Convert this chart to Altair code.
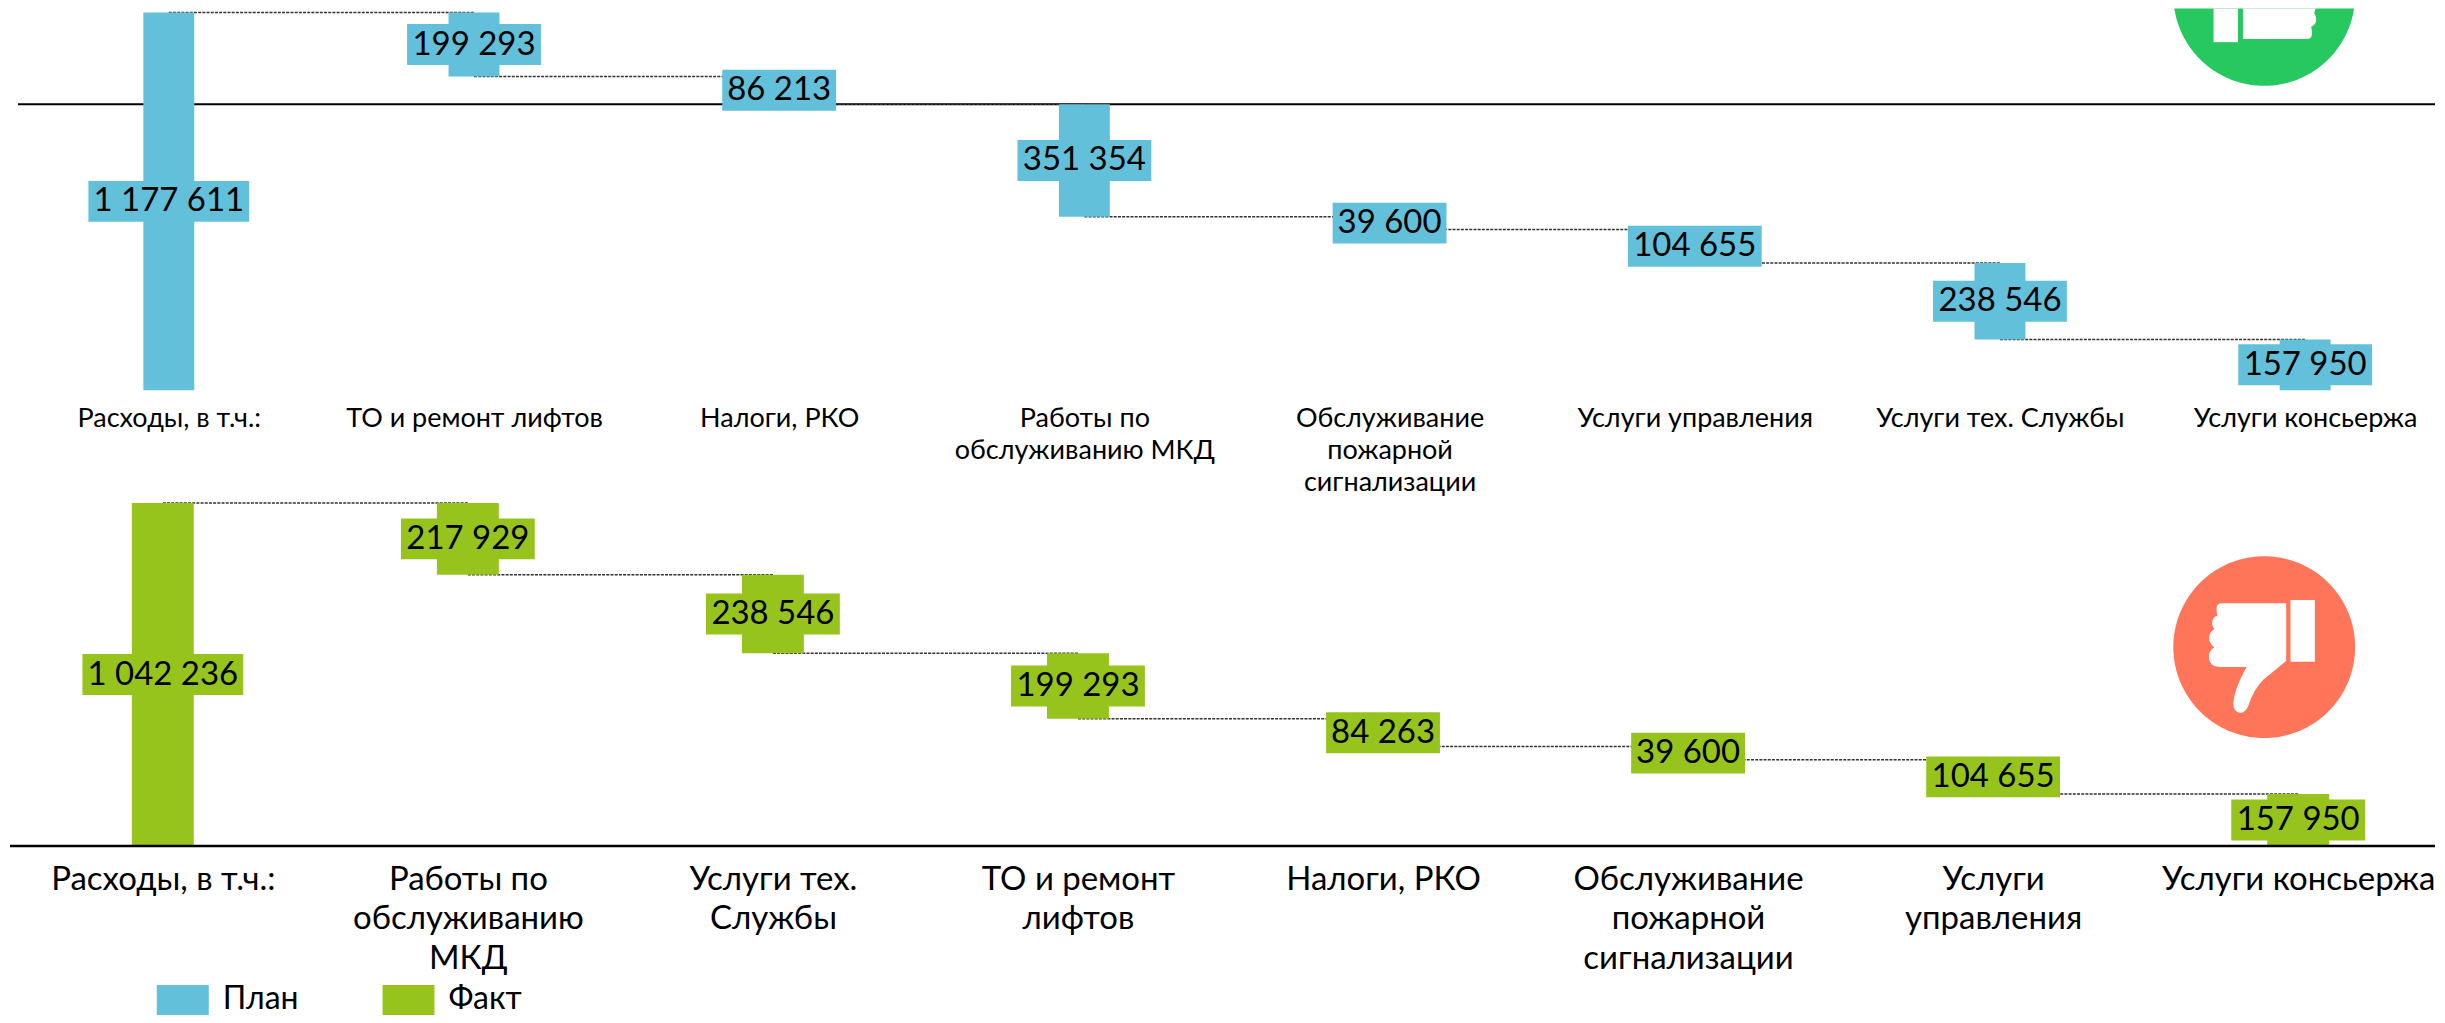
import math
import altair as alt
import pandas as pd

plan_cats = ["Расходы, в т.ч.:", "ТО и ремонт лифтов", "Налоги, РКО", "Работы по|обслуживанию МКД",
             "Обслуживание|пожарной|сигнализации", "Услуги управления", "Услуги тех. Службы", "Услуги консьержа"]
plan_vals = [1177611, 199293, 86213, 351354, 39600, 104655, 238546, 157950]
fact_cats = ["Расходы, в т.ч.:", "Работы по|обслуживанию|МКД", "Услуги тех.|Службы", "ТО и ремонт|лифтов",
             "Налоги, РКО", "Обслуживание|пожарной|сигнализации", "Услуги|управления", "Услуги консьержа"]
fact_vals = [1042236, 217929, 238546, 199293, 84263, 39600, 104655, 157950]

BLUE = "#62C0DA"
GREEN = "#97C41C"
FONT = "Lato"
VIEW_W = 2429

def waterfall(cats, vals, series):
    rows = []
    level = vals[0]
    for i, (c, v) in enumerate(zip(cats, vals)):
        if i == 0:
            hi, lo = v, 0
        else:
            hi, lo = level, level - v
            level = lo
        rows.append(dict(cat=c, hi=hi, lo=lo, mid=(hi + lo) / 2, series=series,
                         label=f"{v:,}".replace(",", " ")))
    for i, r in enumerate(rows):
        if i + 1 < len(rows):
            r["next"] = rows[i + 1]["cat"]
            r["level"] = rows[i + 1]["hi"]
    return pd.DataFrame(rows)

def panel(df, xrange, bar_w, height, total, lab_size, lab_pad, lab_lh, legend, under, over):
    x = alt.X("cat:N", title=None, sort=list(df["cat"]),
              scale=alt.Scale(type="point", domain=list(df["cat"]), range=xrange, padding=0),
              axis=alt.Axis(domain=False, ticks=False, labelAngle=0, labelFont=FONT, labelFontSize=lab_size,
                            labelColor="black", labelPadding=lab_pad, labelLineHeight=lab_lh,
                            labelLimit=0, labelOverlap=False, labelBound=False, labelFlush=False,
                            labelBaseline="top", labelExpr="split(datum.label, '|')"))
    yscale = alt.Scale(domain=[0, total], nice=False, zero=True)
    y = alt.Y("hi:Q", title=None, axis=None, scale=yscale)
    ymid = alt.Y("mid:Q", title=None, axis=None, scale=yscale)
    color = alt.Color("series:N", scale=alt.Scale(domain=["План", "Факт"], range=[BLUE, GREEN]), legend=legend)
    base = alt.Chart(df)
    conn = base.transform_filter("isValid(datum.next)").mark_rule(
        color="#333333", strokeWidth=1.5, strokeDash=[3, 1.2]
    ).encode(x=x, x2=alt.X2("next:N"), y=alt.Y("level:Q", title=None, axis=None, scale=yscale))
    bars = base.mark_bar(size=bar_w).encode(x=x, y=y, y2=alt.Y2("lo:Q"), color=color)
    boxes = base.transform_calculate(
        boxw="length(datum.label) == 6 ? 114 : (length(datum.label) == 7 ? 134 : 161)"
    ).mark_bar(yOffset=-20.5, y2Offset=20.5).encode(
        x=x, y=ymid, y2=alt.Y2("mid:Q"), size=alt.Size("boxw:Q", scale=None, legend=None), color=color)
    text = base.mark_text(font=FONT, fontSize=33, color="black", baseline="middle").encode(
        x=x, y=ymid, text="label:N")
    return alt.layer(*under, conn, bars, boxes, text, *over).properties(width=VIEW_W, height=height)

plan_df = waterfall(plan_cats, plan_vals, "План")
fact_df = waterfall(fact_cats, fact_vals, "Факт")

# thumbs icons (pixel outlines around the disc centre)
def poly(pts):
    return "M" + "L".join(f"{a:.2f},{b:.2f}" for a, b in pts) + "Z"
R = 91
CLIP = 13.7
HAND_D = ("M-42.7,-44L21.3,-44Q22,-44 22,-43L22,14L-1,32.7Q-11,43 -16,59Q-19,66 -24,66Q-31,65 -31,56"
          "Q-30,42 -17.7,20L-44.3,20Q-55,20 -55.5,9Q-55,3 -50,0Q-56,-4 -55,-11Q-54,-16 -50,-18"
          "Q-53,-22 -51.7,-27Q-50,-31 -47,-31.5Q-48,-36 -47.7,-40Q-47,-44 -42.7,-44Z")
CUFF_D = poly([(26.3, -47.3), (50.7, -47.3), (50.7, 14.7), (26.3, 14.7)])
DISC_D = poly([(R * math.cos(t / 90 * math.pi), R * math.sin(t / 90 * math.pi)) for t in range(180)])
a0 = math.asin(CLIP / R)
DISC_U = poly([(R * math.cos(a0 + (math.pi - 2 * a0) * t / 120), R * math.sin(a0 + (math.pi - 2 * a0) * t / 120))
               for t in range(121)])
FIST_U = ("M-21.3,44L42.7,44Q47,44 47.7,40Q48,36 47,31.5Q50,31 51.7,27Q53,22 50,18"
          "Q51,15.5 51.5,13.7L-21.3,13.7Z")
CUFF_U = poly([(-50.7, 13.7), (-26.3, 13.7), (-26.3, 47.3), (-50.7, 47.3)])

one = pd.DataFrame({"k": [0]})
def icon(path, fill, px, py):
    return alt.Chart(one).mark_point(shape=path, size=4, filled=True, fill=fill, opacity=1, strokeWidth=0).encode(
        x=alt.value(px), y=alt.value(py))

plan_rule = alt.Chart(plan_df[plan_df["label"] == "86 213"]).mark_rule(color="black", strokeWidth=2).encode(
    y=alt.Y("lo:Q", title=None, axis=None, scale=alt.Scale(domain=[0, plan_vals[0]], nice=False, zero=True)),
    x=alt.value(9), x2=alt.value(VIEW_W))
fact_rule = alt.Chart(one).mark_rule(color="black", strokeWidth=2.5).encode(
    y=alt.Y(datum=0, type="quantitative", title=None, axis=None,
            scale=alt.Scale(domain=[0, fact_vals[0]], nice=False, zero=True)),
    x=alt.value(1), x2=alt.value(VIEW_W))

UX, UY = 2266 - 8, -5.7 - 12
DX, DY = 2266 - 8, 647.3 - 503
top = panel(plan_df, [160, 2299], 51, 378, plan_vals[0], 27, 15, 32, None,
            [plan_rule, icon(DISC_U, "#28C860", UX, UY), icon(FIST_U, "white", UX, UY), icon(CUFF_U, "white", UX, UY)],
            [])

legend = alt.Legend(title=None, orient="none", legendX=158, legendY=480, direction="horizontal", columns=2,
                    symbolType="M-2.364,-1.273H2.364V1.455H-2.364Z", symbolSize=484, symbolStrokeWidth=0,
                    symbolOpacity=1, labelFont=FONT, labelFontSize=32, labelColor="black", columnPadding=83,
                    labelOffset=24)
bottom = panel(fact_df, [154, 2292], 62, 343.5, fact_vals[0], 33, 17, 39.6, legend,
               [icon(DISC_D, "#FF7559", DX, DY), icon(HAND_D, "white", DX, DY), icon(CUFF_D, "white", DX, DY)],
               [fact_rule])

chart = alt.vconcat(top, bottom, spacing=113, bounds="flush").resolve_legend(color="independent").properties(
    padding={"left": 0, "top": 0, "right": 0, "bottom": 0}
).configure_view(stroke=None)

chart.save("out.html", embed_options={"renderer": "svg", "actions": False})
